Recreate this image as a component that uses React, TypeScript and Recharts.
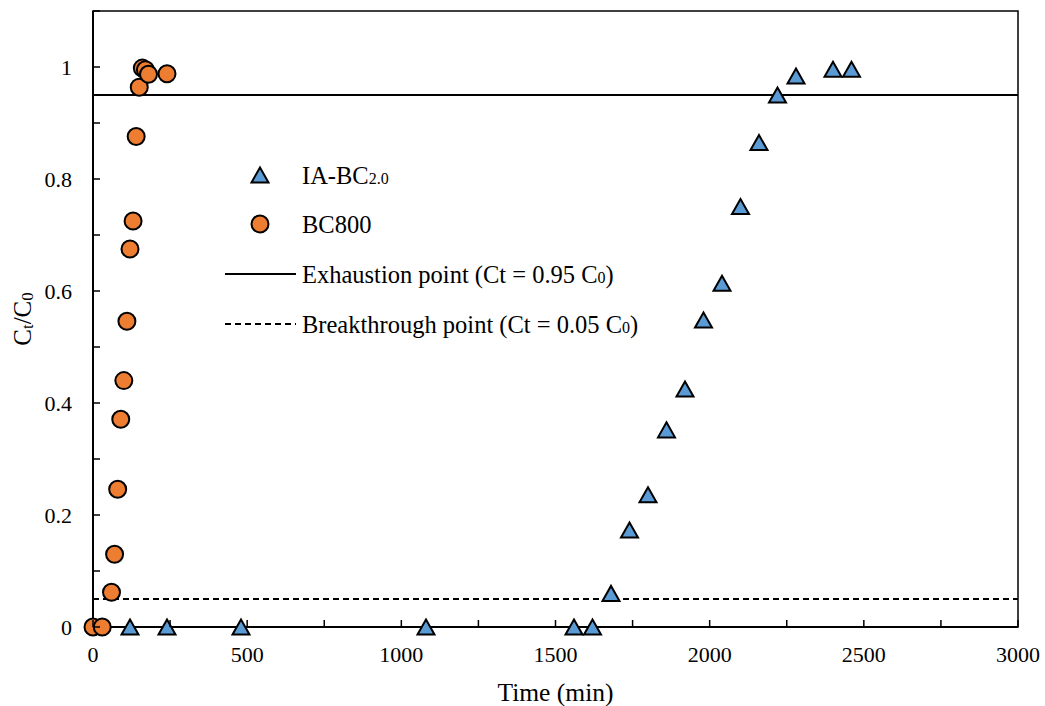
import React from 'react';
import {
  ScatterChart,
  Scatter,
  XAxis,
  YAxis,
  ReferenceLine,
  ReferenceArea,
} from 'recharts';

// breakthrough data, time (min) vs Ct/C0
const timeIA = [120, 240, 480, 1080, 1560, 1620, 1680, 1740, 1800, 1860, 1920, 1980, 2040, 2100, 2160, 2220, 2280, 2400, 2460];
const ratioIA = [0, 0, 0, 0, 0, 0, 0.06, 0.173, 0.236, 0.352, 0.425, 0.548, 0.614, 0.751, 0.865, 0.95, 0.984, 0.996, 0.996];

const timeBC = [0, 30, 60, 70, 80, 90, 100, 110, 120, 130, 140, 150, 160, 170, 180, 240];
const ratioBC = [0, 0, 0.062, 0.13, 0.246, 0.371, 0.44, 0.546, 0.675, 0.725, 0.876, 0.964, 0.998, 0.995, 0.987, 0.988];

const xTicks = [0, 250, 500, 750, 1000, 1250, 1500, 1750, 2000, 2250, 2500, 2750, 3000];
const yTicks = [0, 0.1, 0.2, 0.3, 0.4, 0.5, 0.6, 0.7, 0.8, 0.9, 1, 1.1];

const exhaustion = 0.95;
const breakthrough = 0.05;

const iaData = timeIA.map((t, i) => ({ t, c: ratioIA[i] }));
const bcData = timeBC.map((t, i) => ({ t, c: ratioBC[i] }));

const FONT = '"Liberation Serif", "Times New Roman", serif';
const BLUE = '#5B9BD5';
const ORANGE = '#ED7D31';

const Triangle = (props: any) => {
  const { cx, cy } = props;
  if (cx == null || cy == null) return null;
  return (
    <polygon
      points={`${cx - 8.5},${cy + 7.5} ${cx + 8.5},${cy + 7.5} ${cx},${cy - 7.5}`}
      fill={BLUE}
      stroke="#000"
      strokeWidth={2}
      strokeLinejoin="miter"
    />
  );
};

const Dot = (props: any) => {
  const { cx, cy } = props;
  if (cx == null || cy == null) return null;
  return <circle cx={cx} cy={cy} r={8.5} fill={ORANGE} stroke="#000" strokeWidth={2} />;
};

const XTick = (props: any) => {
  const { x, y, payload } = props;
  const v = payload.value;
  const axisY = y - 4;
  return (
    <g>
      <line x1={x} x2={x} y1={axisY} y2={axisY - 7} stroke="#000" strokeWidth={1.5} />
      {v % 500 === 0 && (
        <text x={x} y={axisY + 35} textAnchor="middle" fontFamily={FONT} fontSize={22} fill="#000">
          {v}
        </text>
      )}
    </g>
  );
};

const YTick = (props: any) => {
  const { x, y, payload } = props;
  const v = Math.round(payload.value * 10);
  const axisX = x + 4;
  return (
    <g>
      <line x1={axisX} x2={axisX + 7} y1={y} y2={y} stroke="#000" strokeWidth={1.5} />
      {v % 2 === 0 && v <= 10 && (
        <text x={axisX - 21} y={y + 8} textAnchor="end" fontFamily={FONT} fontSize={22} fill="#000">
          {String(v / 10)}
        </text>
      )}
    </g>
  );
};

const Legend = () => (
  <svg width={1045} height={706} style={{ position: 'absolute', left: 0, top: 0, pointerEvents: 'none' }}>
    <g fontFamily={FONT} fontSize={24.5} fill="#000">
      <Triangle cx={260} cy={175} />
      <text x={302} y={184}>
        IA-BC<tspan fontSize={16}>2.0</tspan>
      </text>
      <Dot cx={260} cy={224} />
      <text x={302} y={233}>BC800</text>
      <line x1={225} x2={296} y1={274} y2={274} stroke="#000" strokeWidth={2} />
      <text x={302} y={283}>
        Exhaustion point (Ct = 0.95 C<tspan fontSize={16}>0</tspan>)
      </text>
      <line x1={225} x2={296} y1={324} y2={324} stroke="#000" strokeWidth={2} strokeDasharray="6 4" />
      <text x={302} y={333}>
        Breakthrough point (Ct = 0.05 C<tspan fontSize={16}>0</tspan>)
      </text>
    </g>
  </svg>
);

const YLabel = (props: any) => {
  const { viewBox } = props;
  const cx = 22;
  const cy = viewBox.y + viewBox.height / 2;
  return (
    <text
      x={cx}
      y={cy}
      transform={`rotate(-90 ${cx} ${cy})`}
      textAnchor="middle"
      dominantBaseline="central"
      fontFamily={FONT}
      fontSize={25}
      fill="#000"
    >
      C<tspan fontSize={17} dy={5}>t</tspan>
      <tspan dy={-5}>/C</tspan>
      <tspan fontSize={17} dy={5}>0</tspan>
    </text>
  );
};

export default function App() {
  return (
    <div style={{ position: 'absolute', left: 0, top: 0, width: 1045, height: 706, background: '#fff' }}>
      <ScatterChart width={1045} height={706} margin={{ top: 11, right: 27, bottom: 0, left: 0 }}>
        <XAxis
          type="number"
          dataKey="t"
          domain={[0, 3000]}
          ticks={xTicks}
          interval={0}
          tickSize={0}
          tickMargin={4}
          tickLine={false}
          tick={<XTick />}
          axisLine={{ stroke: '#000', strokeWidth: 2 }}
          height={79}
          label={{ value: 'Time (min)', position: 'insideBottom', offset: 5, fontFamily: FONT, fontSize: 25.5, fill: '#000' }}
        />
        <YAxis
          type="number"
          dataKey="c"
          domain={[0, 1.1]}
          ticks={yTicks}
          interval={0}
          tickSize={0}
          tickMargin={4}
          tickLine={false}
          tick={<YTick />}
          axisLine={{ stroke: '#000', strokeWidth: 2 }}
          width={93}
          label={<YLabel />}
        />
        <ReferenceArea x1={0} x2={3000} y1={0} y2={1.1} fill="none" stroke="#000" strokeWidth={1.5} />
        <ReferenceLine y={exhaustion} stroke="#000" strokeWidth={2} />
        <ReferenceLine y={breakthrough} stroke="#000" strokeWidth={2} strokeDasharray="6 4" />
        <Scatter name="BC800" data={bcData} shape={<Dot />} isAnimationActive={false} />
        <Scatter name="IA-BC2.0" data={iaData} shape={<Triangle />} isAnimationActive={false} />
      </ScatterChart>
      <Legend />
    </div>
  );
}
